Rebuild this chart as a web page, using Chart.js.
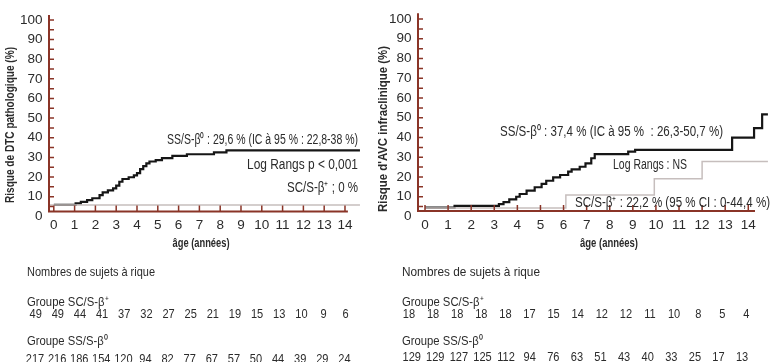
<!DOCTYPE html>
<html lang="fr">
<head>
<meta charset="utf-8">
<title>Risque cumulé DTC / AVC</title>
<script src="https://cdn.jsdelivr.net/npm/chart.js@4"></script>
<style>
  html, body { margin: 0; padding: 0; background: #fff; }
  #wrap { position: relative; width: 775px; height: 362px; overflow: hidden; }
  #wrap canvas { position: absolute; left: 0; top: 0; }
</style>
</head>
<body>
<div id="wrap">
  <canvas id="chart-dtc" width="775" height="362"></canvas>
  <canvas id="chart-avc" width="775" height="362"></canvas>
</div>
<script>
// ── Axis ticks ──
const xTickValues = [0, 1, 2, 3, 4, 5, 6, 7, 8, 9, 10, 11, 12, 13, 14];
const yTickValues = [0, 10, 20, 30, 40, 50, 60, 70, 80, 90, 100];

// ── Left panel: risque de DTC pathologique ──
const dtcSSTimes = [0, 1.05, 1.3, 1.6, 1.85, 2.2, 2.35, 2.6, 2.85, 3.0, 3.15, 3.3, 3.6, 3.85, 4.0, 4.15, 4.3, 4.45, 4.6, 4.9, 5.2, 5.7, 6.4, 7.7, 8.3, 14.72];
const dtcSSRisk  = [5.8, 6.6, 7.4, 8.2, 9.2, 10.8, 12.2, 13.2, 14.2, 15.6, 17.6, 19.0, 19.9, 20.8, 22.0, 24.0, 25.6, 27.0, 27.9, 28.6, 29.6, 30.8, 31.6, 32.6, 33.6, 33.6];
const dtcSCTimes = [-0.2, 14.72];
const dtcSCRisk  = [5.8, 5.8];
const dtcAtRiskSC = [49, 49, 44, 41, 37, 32, 27, 25, 21, 19, 15, 13, 10, 9, 6];
const dtcAtRiskSS = [217, 216, 186, 154, 120, 94, 82, 77, 67, 57, 50, 44, 39, 29, 24];

// ── Right panel: risque d'AVC infraclinique ──
const avcSSTimes = [0, 1.28, 3.2, 3.4, 3.65, 3.95, 4.1, 4.4, 4.75, 5.05, 5.25, 5.55, 5.85, 6.2, 6.35, 6.7, 6.95, 7.2, 7.35, 8.8, 9.1, 13.3, 14.25, 14.6, 14.85];
const avcSSRisk  = [4.5, 5.4, 6.3, 7.3, 8.7, 10.0, 11.4, 13.1, 14.8, 16.5, 18.1, 19.8, 21.0, 22.7, 23.9, 25.2, 26.9, 29.5, 31.6, 32.8, 33.7, 39.9, 44.7, 51.7, 51.7];
const avcSCTimes = [0, 6.1, 9.93, 12.0, 14.85];
const avcSCRisk  = [4.3, 10.9, 19.1, 27.9, 27.9];
const avcAtRiskSC = [18, 18, 18, 18, 18, 17, 15, 14, 12, 12, 11, 10, 8, 5, 4];
const avcAtRiskSS = [129, 129, 127, 125, 112, 94, 76, 63, 51, 43, 40, 33, 25, 17, 13];

// ── Styles ──
const AXIS_COLOUR = '#8a3427';
const TEXT_COLOUR = '#2b2b2b';
const SANS = '"Liberation Sans", Arial, sans-serif';

function toPoints(times, values) {
  return times.map(function(t, i) { return { x: t, y: values[i] }; });
}

// condensed text: squeeze horizontally, either to a fixed ratio or to a target width
function drawText(ctx, text, x, y, o) {
  ctx.font = (o.bold ? 'bold ' : '') + o.size + 'px ' + SANS;
  const w = ctx.measureText(text).width;
  const sx = o.width ? o.width / w : (o.squeeze || 1);
  ctx.save();
  ctx.translate(x, y);
  if (o.rotate) ctx.rotate(o.rotate);
  ctx.scale(sx, 1);
  ctx.textAlign = o.align || 'left';
  ctx.textBaseline = 'middle';
  ctx.fillText(text, 0, 0);
  ctx.restore();
}

// draws the axes, labels, annotations and at-risk table of one panel
const panelDecor = {
  id: 'panelDecor',
  afterDatasetsDraw: function(chart, args, opts) {
    const ctx = chart.ctx;
    const xs = chart.scales.x, ys = chart.scales.y;
    const ca = chart.chartArea;
    const x0 = ca.left, yBase = ca.bottom;
    ctx.save();

    // axis lines
    ctx.strokeStyle = AXIS_COLOUR;
    ctx.lineWidth = 2;
    ctx.beginPath();
    ctx.moveTo(x0, ca.top);
    ctx.lineTo(x0, yBase);
    ctx.lineTo(xs.getPixelForValue(opts.axisEnd), yBase);
    ctx.stroke();

    // ticks (every 5 on y, every year on x), pointing inwards
    ctx.lineWidth = 1.5;
    ctx.beginPath();
    yTickValues.forEach(function(v) {
      [v, v - 5].forEach(function(t) {
        if (t <= 0) return;
        const p = ys.getPixelForValue(t);
        ctx.moveTo(x0, p); ctx.lineTo(x0 + 5, p);
      });
    });
    xTickValues.forEach(function(v) {
      const p = xs.getPixelForValue(v);
      ctx.moveTo(p, yBase); ctx.lineTo(p, yBase - 6);
    });
    ctx.stroke();

    // tick labels
    ctx.fillStyle = TEXT_COLOUR;
    ctx.font = '13.5px ' + SANS;
    ctx.textBaseline = 'middle';
    ctx.textAlign = 'right';
    yTickValues.forEach(function(v) {
      ctx.fillText(String(v), x0 - 6.5, ys.getPixelForValue(v));
    });
    ctx.textAlign = 'center';
    xTickValues.forEach(function(v) {
      ctx.fillText(String(v), xs.getPixelForValue(v), yBase + 14);
    });

    // axis titles
    drawText(ctx, opts.xTitle, opts.xTitleX, 244, { size: 12, bold: true, align: 'center', width: opts.xTitleW });
    drawText(ctx, opts.yTitle, opts.yTitleX, opts.yTitleY, { size: 12, bold: true, align: 'center', width: opts.yTitleW, rotate: -Math.PI / 2 });

    // annotations
    opts.notes.forEach(function(n) {
      drawText(ctx, n.text, n.x, n.y, { size: 14, align: n.align, width: n.w });
    });

    // numbers at risk
    const tb = opts.table;
    drawText(ctx, 'Nombres de sujets à rique', tb.x, 272, { size: 13, width: tb.headW });
    tb.rows.forEach(function(r) {
      drawText(ctx, r.label, tb.x, r.labelY, { size: 13, width: 81 });
      r.values.forEach(function(v, i) {
        drawText(ctx, String(v), r.firstX + i * r.step, r.valuesY, { size: 13, align: 'center', squeeze: 0.85 });
      });
    });

    ctx.restore();
  }
};

function makePanel(canvasId, p) {
  return new Chart(document.getElementById(canvasId), {
    type: 'line',
    data: {
      datasets: [
        { label: 'SC/S-β⁺', data: p.sc, borderColor: '#c6bebd', borderWidth: 1.5, stepped: 'before', pointRadius: 0, fill: false },
        { label: 'SS/S-β⁰', data: p.ss, borderColor: '#161616', borderWidth: 2.2, stepped: 'before', pointRadius: 0, fill: false }
      ]
    },
    options: {
      responsive: false,
      animation: false,
      events: [],
      layout: { padding: p.padding },
      plugins: {
        legend: { display: false },
        tooltip: { enabled: false },
        panelDecor: p.decor
      },
      scales: {
        x: { type: 'linear', display: false, min: p.xMin, max: p.xMax },
        y: { type: 'linear', display: false, min: p.yMin, max: p.yMax }
      }
    },
    plugins: [panelDecor]
  });
}

makePanel('chart-dtc', {
  ss: toPoints(dtcSSTimes, dtcSSRisk),
  sc: toPoints(dtcSCTimes, dtcSCRisk),
  padding: { left: 49, right: 414, top: 15, bottom: 150.5 },
  xMin: -0.231, xMax: 14.77, yMin: 2.45, yMax: 102.5,
  decor: {
    axisEnd: 14.14,
    xTitle: 'âge (années)', xTitleX: 201, xTitleW: 57,
    yTitle: 'Risque de DTC pathologique (%)', yTitleX: 11, yTitleY: 125, yTitleW: 156,
    notes: [
      { text: 'SS/S-β⁰ : 29,6 % (IC à 95 % : 22,8-38 %)', x: 358, y: 140, align: 'right', w: 191 },
      { text: 'Log Rangs p < 0,001', x: 358, y: 165, align: 'right', w: 111 },
      { text: 'SC/S-β⁺ ; 0 %', x: 358, y: 188, align: 'right', w: 71 }
    ],
    table: {
      x: 27, headW: 128,
      rows: [
        { label: 'Groupe SC/S-β⁺', labelY: 302, values: dtcAtRiskSC, valuesY: 314, firstX: 35.7, step: 22.14 },
        { label: 'Groupe SS/S-β⁰', labelY: 341, values: dtcAtRiskSS, valuesY: 359, firstX: 35, step: 22.1 }
      ]
    }
  }
});

makePanel('chart-avc', {
  ss: toPoints(avcSSTimes, avcSSRisk),
  sc: toPoints(avcSCTimes, avcSCRisk),
  padding: { left: 418, right: 5, top: 13.3, bottom: 151 },
  xMin: -0.303, xMax: 14.94, yMin: 2.78, yMax: 102.9,
  decor: {
    axisEnd: 14.29,
    xTitle: 'âge (années)', xTitleX: 609, xTitleW: 58,
    yTitle: "Risque d'AVC infraclinique (%)", yTitleX: 384, yTitleY: 129, yTitleW: 166,
    notes: [
      { text: 'SS/S-β⁰ : 37,4 % (IC à 95 %  : 26,3-50,7 %)', x: 500, y: 132, align: 'left', w: 223 },
      { text: 'Log Rangs : NS', x: 613, y: 165, align: 'left', w: 74 },
      { text: 'SC/S-β⁺ : 22,2 % (95 % CI : 0-44,4 %)', x: 575, y: 203, align: 'left', w: 195 }
    ],
    table: {
      x: 402, headW: 138,
      rows: [
        { label: 'Groupe SC/S-β⁺', labelY: 302, values: avcAtRiskSC, valuesY: 314, firstX: 409, step: 24.1 },
        { label: 'Groupe SS/S-β⁰', labelY: 341, values: avcAtRiskSS, valuesY: 357, firstX: 411.7, step: 23.6 }
      ]
    }
  }
});
</script>
</body>
</html>
